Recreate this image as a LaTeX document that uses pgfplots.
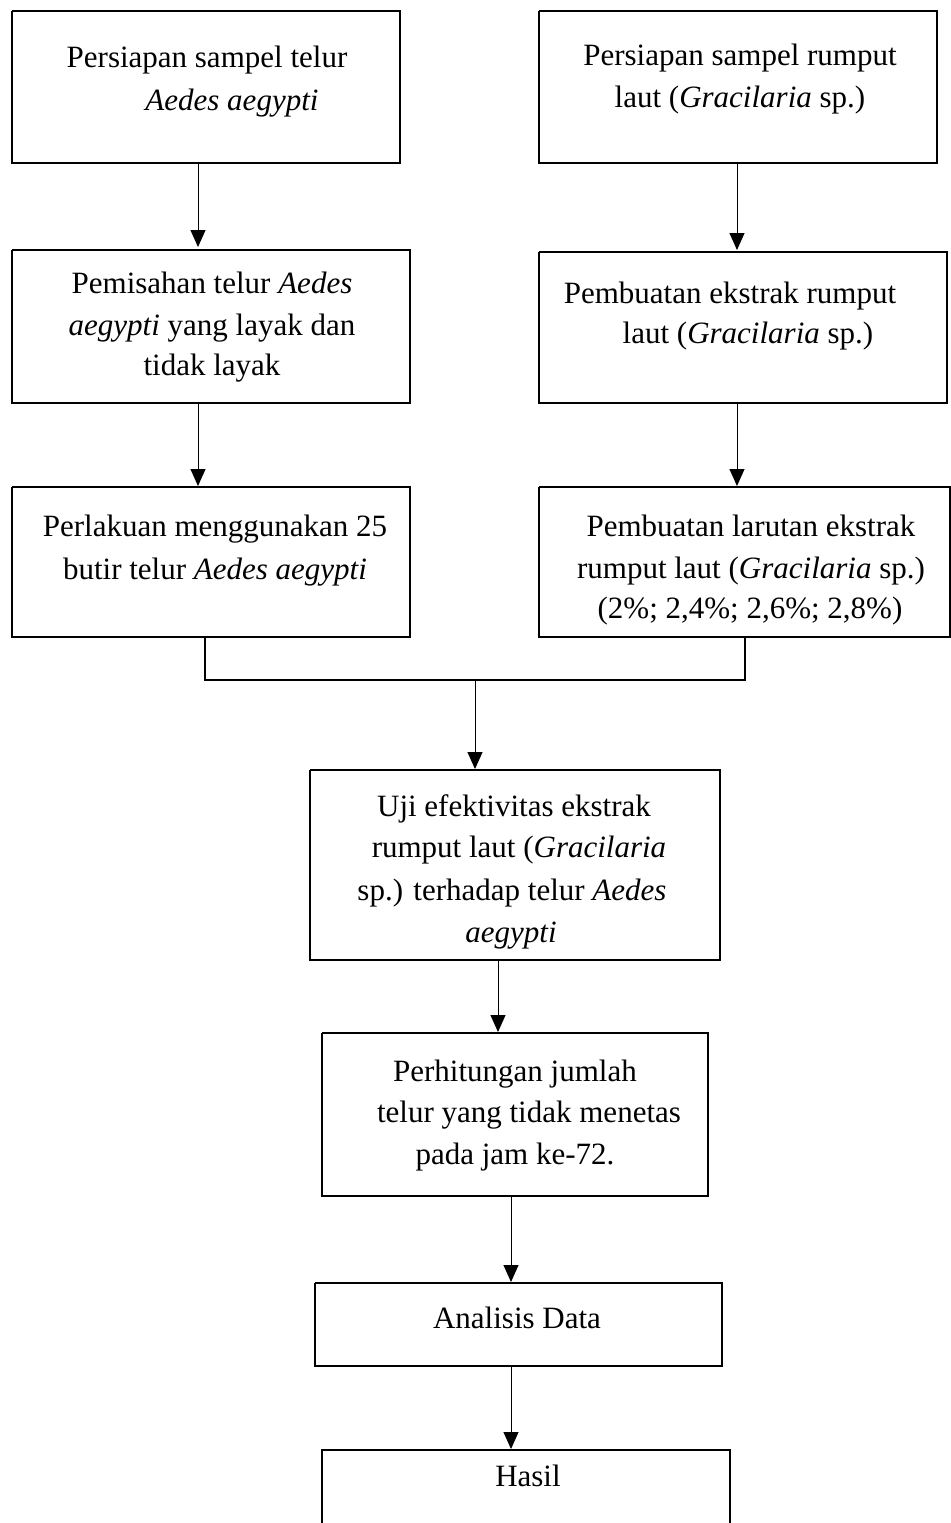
\documentclass[border=0pt]{standalone}
\usepackage{fontspec}
\setmainfont{Liberation Serif}
\usepackage{pgfplots}
\pgfplotsset{compat=1.18}
\usetikzlibrary{arrows.meta}
\tikzset{lbl/.style={font=\fontsize{15.5}{21}\selectfont, anchor=base, inner sep=0pt}}
\begin{document}
\begin{tikzpicture}
\begin{axis}[
  scale only axis, width=475.5pt, height=761.5pt,
  xmin=0, xmax=951, ymin=0, ymax=1523, y dir=reverse,
  hide axis, clip=false,
]
% boxes
\pgfplotsset{box/.style={black, line width=1pt, no marks, line join=miter}}
\addplot[box] coordinates {(12,11) (400,11) (400,163) (12,163) (12,11)};
\addplot[box] coordinates {(539,11) (937,11) (937,163) (539,163) (539,11)};
\addplot[box] coordinates {(12,250) (410,250) (410,403) (12,403) (12,250)};
\addplot[box] coordinates {(539,252) (947,252) (947,403) (539,403) (539,252)};
\addplot[box] coordinates {(12,487) (410,487) (410,637) (12,637) (12,487)};
\addplot[box] coordinates {(539,487) (950,487) (950,637) (539,637) (539,487)};
\addplot[box] coordinates {(310,770) (720,770) (720,960) (310,960) (310,770)};
\addplot[box] coordinates {(322,1033) (708,1033) (708,1196) (322,1196) (322,1033)};
\addplot[box] coordinates {(315,1283) (722,1283) (722,1366) (315,1366) (315,1283)};
\addplot[box] coordinates {(322,1523) (322,1450) (730,1450) (730,1523)};
% connector
\addplot[black, line width=0.8pt, no marks] coordinates {(205,637) (205,680) (745,680) (745,637)};
% arrows
\pgfplotsset{arr/.style={black, line width=0.5pt, no marks, -{Triangle[width=7.5pt,length=8.5pt]}}}
\addplot[arr] coordinates {(198,163) (198,247)};
\addplot[arr] coordinates {(737,163) (737,250)};
\addplot[arr] coordinates {(198,403) (198,486)};
\addplot[arr] coordinates {(737,403) (737,486)};
\addplot[arr] coordinates {(475,680) (475,769)};
\addplot[arr] coordinates {(498,960) (498,1032)};
\addplot[arr] coordinates {(511,1196) (511,1282)};
\addplot[arr] coordinates {(511,1366) (511,1449)};
% texts
\node[lbl] at (axis cs:207,67) {Persiapan sampel telur};
\node[lbl] at (axis cs:232,110) {\itshape Aedes aegypti};
\node[lbl] at (axis cs:740,65) {Persiapan sampel rumput};
\node[lbl] at (axis cs:740,107) {laut (\textit{Gracilaria} sp.)};
\node[lbl] at (axis cs:212,293) {Pemisahan telur \textit{Aedes}};
\node[lbl] at (axis cs:212,335) {\textit{aegypti} yang layak dan};
\node[lbl] at (axis cs:212,375) {tidak layak};
\node[lbl] at (axis cs:730,303) {Pembuatan ekstrak rumput};
\node[lbl] at (axis cs:748,343) {laut (\textit{Gracilaria} sp.)};
\node[lbl] at (axis cs:215,536) {Perlakuan menggunakan 25};
\node[lbl] at (axis cs:215,579) {butir telur \textit{Aedes aegypti}};
\node[lbl] at (axis cs:751,536) {Pembuatan larutan ekstrak};
\node[lbl] at (axis cs:751,578) {rumput laut (\textit{Gracilaria} sp.)};
\node[lbl] at (axis cs:750,618) {(2\%; 2,4\%; 2,6\%; 2,8\%)};
\node[lbl] at (axis cs:514,816) {Uji efektivitas ekstrak};
\node[lbl] at (axis cs:519,857) {rumput laut (\textit{Gracilaria}};
\node[lbl] at (axis cs:512,900) {sp.) terhadap telur \textit{Aedes}};
\node[lbl] at (axis cs:511,942) {\textit{aegypti}};
\node[lbl] at (axis cs:515,1081) {Perhitungan jumlah};
\node[lbl] at (axis cs:529,1122) {telur yang tidak menetas};
\node[lbl] at (axis cs:515,1164) {pada jam ke-72.};
\node[lbl] at (axis cs:517,1328) {Analisis Data};
\node[lbl] at (axis cs:528,1486) {Hasil};
\end{axis}
\pgfresetboundingbox
\path (current axis.south west) rectangle (current axis.north east);
\end{tikzpicture}
\end{document}
